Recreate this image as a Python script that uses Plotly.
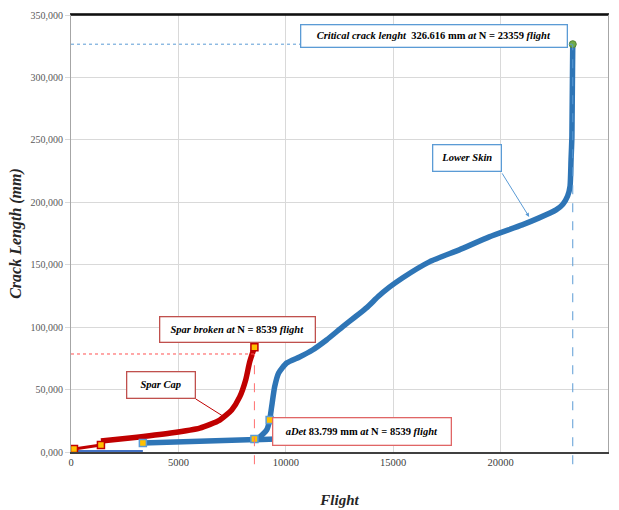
import plotly.graph_objects as go

# ---------------- data ----------------
spar_thin_x = [139, 1394]
spar_thin_y = [2400, 5600]
spar_x = [1394, 2742, 4647, 5995, 6924, 7482, 7853, 8132, 8318, 8539]
spar_y = [8800, 11200, 15200, 19200, 25600, 33700, 44100, 57700, 72100, 83800]

skin_thin_x = [139, 3346]
skin_thin_y = [500, 500]
skin_init_x = [3346, 8539, 10640]
skin_init_y = [7200, 10400, 11000]

skin_x = [8539, 8783, 9108, 9247, 9340, 9480, 9666, 10038, 10641, 11245, 11896,
          12640, 13755, 14300, 14824, 15428, 16683, 18076, 19470, 21004, 21793, 22583,
          22900, 23120, 23234, 23280, 23320, 23359]
skin_y = [10400, 12000, 17600, 25600, 36100, 52100, 63300, 71300, 76100, 81700, 89700,
          100200, 115400, 124500, 132000, 139400, 152300, 161900, 172300, 181900, 187500, 193900,
          198500, 205000, 213000, 234000, 252400, 326616]

marker_x = [139, 1394, 3346, 8539, 9247, 8539]
marker_y = [2400, 5600, 7200, 10400, 25600, 83800]
marker_border = ["#C00000", "#C00000", "#5B9BD5", "#5B9BD5", "#5B9BD5", "#C00000"]

critical_x = [23359]
critical_y = [326616]
spar_break_x = 8539
spar_break_y = 78500

y_tickvals = [0, 50000, 100000, 150000, 200000, 250000, 300000, 350000]
y_ticktext = ["0,000", "50,000", "100,000", "150,000", "200,000", "250,000", "300,000", "350,000"]
x_tickvals = [0, 5000, 10000, 15000, 20000, 25000]

RED = "#C00000"
BLUE = "#2E75B6"
LBLUE = "#5B9BD5"
FONT = "Liberation Serif, Times New Roman, serif"

fig = go.Figure()

fig.add_trace(go.Scatter(x=skin_thin_x, y=skin_thin_y, mode="lines",
                         line=dict(color="#4472C4", width=3), showlegend=False))
fig.add_trace(go.Scatter(x=spar_thin_x, y=spar_thin_y, mode="lines",
                         line=dict(color=RED, width=3), showlegend=False))
fig.add_trace(go.Scatter(x=spar_x, y=spar_y, mode="lines",
                         line=dict(color=RED, width=5.5, shape="spline", smoothing=0.6),
                         showlegend=False))
fig.add_trace(go.Scatter(x=skin_init_x, y=skin_init_y, mode="lines",
                         line=dict(color=BLUE, width=5.5), showlegend=False))
fig.add_trace(go.Scatter(x=skin_x, y=skin_y, mode="lines",
                         line=dict(color=BLUE, width=5.5, shape="spline", smoothing=0.5),
                         showlegend=False))
fig.add_trace(go.Scatter(x=marker_x, y=marker_y, mode="markers",
                         marker=dict(symbol="square", size=7, color="#FFC000",
                                     line=dict(color=marker_border, width=1.5)),
                         showlegend=False))
fig.add_trace(go.Scatter(x=critical_x, y=critical_y, mode="markers",
                         marker=dict(symbol="circle", size=7, color="#70AD47",
                                     line=dict(color="#548235", width=1)),
                         showlegend=False))

# reference dashed lines
fig.add_shape(type="line", xref="x", yref="y", x0=0, x1=critical_x[0],
              y0=critical_y[0], y1=critical_y[0], line=dict(color=LBLUE, width=1, dash="dot"))
fig.add_shape(type="line", xref="x", yref="paper", x0=critical_x[0], x1=critical_x[0],
              y0=-0.028, y1=critical_y[0] / 350000, line=dict(color=LBLUE, width=1, dash="dash"))
fig.add_shape(type="line", xref="x", yref="y", x0=0, x1=spar_break_x,
              y0=spar_break_y, y1=spar_break_y, line=dict(color="#FF5050", width=1, dash="dot"))
fig.add_shape(type="line", xref="x", yref="paper", x0=spar_break_x, x1=spar_break_x,
              y0=-0.028, y1=spar_break_y / 350000, line=dict(color="#FF7070", width=1, dash="dash"))

# Spar cap connector
fig.add_shape(type="line", xref="x", yref="y", x0=5808, y0=42470, x1=7063, y1=28850,
              line=dict(color=RED, width=1))

def box(x, y, text, w, h, color):
    fig.add_annotation(x=x, y=y, xref="x", yref="y", text=text, showarrow=False,
                       width=w, height=h, bordercolor=color, borderwidth=1.3, borderpad=0,
                       bgcolor="white", font=dict(family=FONT, size=10.5, color="black"))

box(16891, 332942, "<b><i>Critical crack lenght</i>  326.616 mm <i>at</i> N = 23359 <i>flight</i></b>",
    265, 21, LBLUE)
box(18425, 235180, "<b><i>Lower Skin</i></b>", 67, 25, LBLUE)
box(7760, 97760, "<b><i>Spar broken at</i> N = 8539 <i>flight</i></b>", 154, 24, "#C0504D")
box(4205, 53290, "<b><i>Spar Cap</i></b>", 67, 25, "#C0504D")
box(13545, 16030, "<b><i>aDet</i> 83.799 mm <i>at</i> N = 8539 <i>flight</i></b>", 177, 26, "#E06666")

# Lower skin arrow
fig.add_annotation(x=21330, y=188300, xref="x", yref="y", ax=20028, ay=224360,
                   axref="x", ayref="y", text="", showarrow=True, arrowhead=2,
                   arrowsize=0.8, arrowwidth=1, arrowcolor=LBLUE, standoff=0)

fig.update_layout(
    width=619, height=510,
    margin=dict(l=71, r=11, t=15, b=58),
    paper_bgcolor="white", plot_bgcolor="white",
    showlegend=False,
    font=dict(family=FONT, size=10, color="#595959"),
)
fig.update_xaxes(range=[0, 25000], tickvals=x_tickvals, tickformat="d", automargin=False,
                 showgrid=True, gridcolor="#D9D9D9", gridwidth=1,
                 showline=True, linecolor="#404040", linewidth=1.5, mirror=True,
                 ticks="", zeroline=False,
                 tickfont=dict(family=FONT, size=10.5, color="#404040"),
                 title=dict(text="<b><i>Flight</i></b>", standoff=27,
                            font=dict(family=FONT, size=15, color="#262626")))
fig.update_yaxes(range=[0, 350000], tickvals=y_tickvals, ticktext=y_ticktext, automargin=False,
                 showgrid=True, gridcolor="#D9D9D9", gridwidth=1,
                 showline=True, linecolor="#A6A6A6", linewidth=1, mirror=True,
                 ticks="outside", ticklen=5, tickcolor="#D9D9D9", zeroline=False,
                 tickfont=dict(family=FONT, size=10, color="#595959"),
                 title=dict(text="<b><i>Crack Length (mm)</i></b>", standoff=4,
                            font=dict(family=FONT, size=16, color="#262626")))
fig.add_shape(type="line", xref="paper", yref="paper", x0=0, x1=1, y0=1, y1=1,
              line=dict(color="black", width=1.5))

fig.write_html("out.html")
